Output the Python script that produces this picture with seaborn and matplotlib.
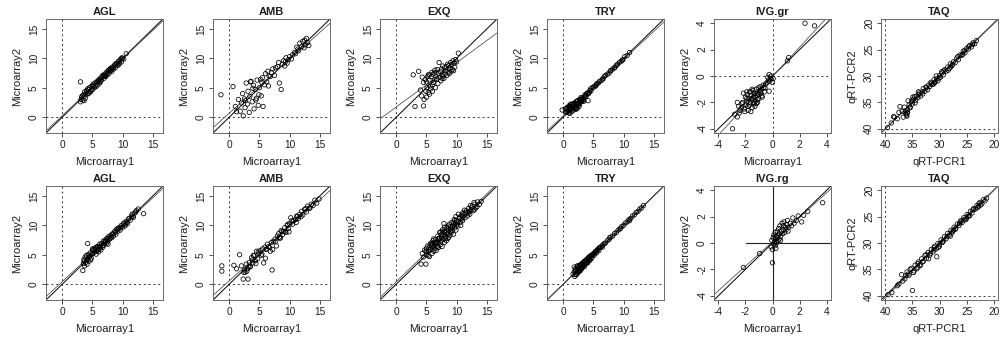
import numpy as np
import matplotlib
matplotlib.use("Agg")
import matplotlib.pyplot as plt
import seaborn as sns

# ---- row 1 -------------------------------------------------------------
agl1_x = [3.0, 3.1, 3.2, 3.4, 3.5, 3.6, 3.7, 3.8, 4.0, 4.1, 4.2, 4.3, 4.4, 4.5, 4.6, 4.8, 4.9,
          5.0, 5.1, 5.3, 5.4, 5.5, 5.6, 5.8, 5.9, 6.0, 6.1, 6.2, 6.4, 6.5, 6.6, 6.7, 6.9,
          7.0, 7.1, 7.2, 7.3, 7.5, 7.6, 7.7, 7.8, 8.0, 8.1, 8.2, 8.3, 8.5, 8.6, 8.7, 8.8,
          9.0, 9.1, 9.2, 9.3, 9.4, 9.6, 9.7, 9.8, 10.0, 10.2, 10.6, 3.0,
          3.3, 3.9, 4.4, 4.7, 5.2, 5.7, 6.3, 6.8, 7.4, 7.9, 8.4, 8.9, 9.5, 9.9,
          3.6, 4.1, 5.0, 6.0, 7.0, 8.0]
agl1_y = [2.6, 3.0, 3.4, 2.9, 3.8, 3.5, 4.3, 3.2, 4.5, 3.9, 4.8, 4.0, 4.1, 5.0, 4.4, 5.2, 4.6,
          4.7, 5.6, 5.0, 5.8, 5.4, 5.2, 6.1, 5.5, 6.2, 6.4, 5.8, 6.7, 6.3, 6.8, 7.1, 6.6,
          7.3, 7.0, 6.9, 7.6, 7.2, 7.9, 8.0, 7.5, 8.3, 8.0, 7.8, 8.5, 8.2, 8.7, 8.9, 8.4,
          9.1, 9.2, 8.8, 9.5, 9.0, 9.7, 9.9, 9.4, 10.0, 9.9, 10.8, 6.0,
          3.6, 4.0, 4.7, 4.3, 5.3, 5.9, 6.0, 7.0, 7.4, 8.1, 8.4, 9.1, 9.2, 10.1,
          2.8, 4.4, 5.3, 6.0, 7.0, 8.0]

amb1_x = [-1.4, 0.6, 1.0, 1.2, 1.5, 1.8, 2.0, 2.2, 2.3, 2.5,
          2.6, 2.7, 2.8, 3.0, 3.1, 3.3, 3.4, 3.5, 3.6, 3.8,
          3.9, 4.0, 4.1, 4.3, 4.4, 4.5, 4.6, 4.8, 4.9, 5.0,
          5.2, 5.3, 5.4, 5.5, 5.6, 5.8, 6.0, 6.2, 6.4, 6.5,
          6.6, 6.8, 7.0, 7.2, 7.5, 7.7, 8.0, 8.2, 8.3, 8.6,
          8.8, 9.0, 9.2, 9.3, 9.4, 9.6, 9.8, 10.0, 10.3, 10.5,
          10.8, 11.0, 11.2, 11.4, 11.5, 11.7, 12.0, 12.2, 12.4, 12.5,
          12.6, 12.8, 13.0, 13.2]
amb1_y = [3.8, 5.2, 1.8, 0.9, 3.0, 1.0, 2.4, 4.0, 0.2, 3.1,
          1.6, 2.8, 5.8, 2.2, 4.4, 0.8, 3.5, 6.0, 6.1, 2.6,
          4.9, 5.4, 1.4, 4.7, 2.9, 3.2, 6.3, 2.0, 3.8, 5.0,
          6.4, 3.6, 5.9, 6.7, 1.8, 5.5, 7.4, 6.0, 7.8, 5.3,
          7.0, 6.9, 7.6, 8.2, 7.1, 8.4, 8.6, 9.3, 5.8, 4.7,
          9.0, 9.6, 8.7, 9.4, 10.1, 9.2, 9.8, 10.3, 9.9, 10.6,
          11.0, 10.8, 11.9, 11.6, 11.3, 12.6, 12.0, 12.9, 11.8, 13.1,
          12.3, 13.4, 12.7, 12.2]

exq1_x = [2.8, 3.1, 3.7, 4.0, 4.2, 4.5, 4.5, 4.6, 4.8, 4.9,
          5.0, 5.0, 5.1, 5.2, 5.3, 5.4, 5.5, 5.5, 5.6, 5.7,
          5.8, 5.9, 6.0, 6.0, 6.1, 6.2, 6.3, 6.4, 6.5, 6.6,
          6.7, 6.8, 6.9, 7.0, 7.1, 7.2, 7.3, 7.4, 7.5, 7.6,
          7.7, 7.8, 7.9, 8.0, 8.1, 8.2, 8.3, 8.4, 8.5, 8.6,
          8.7, 8.8, 8.9, 9.0, 9.1, 9.2, 9.3, 9.4, 9.5, 9.6,
          9.7, 9.8, 10.0, 10.3, 4.3, 5.3, 6.4, 7.6]
exq1_y = [7.2, 1.8, 7.8, 4.6, 3.6, 1.9, 5.9, 3.0, 6.4, 4.4,
          6.0, 3.4, 5.0, 6.9, 4.2, 6.3, 3.9, 7.2, 5.3, 4.8,
          6.9, 7.6, 5.5, 4.4, 7.3, 5.9, 7.5, 6.4, 5.0, 7.6,
          6.5, 8.1, 5.7, 7.4, 9.3, 6.8, 7.8, 6.2, 8.2, 7.1,
          8.7, 7.0, 6.6, 8.4, 7.3, 7.9, 8.6, 7.1, 9.0, 7.6,
          8.8, 7.4, 8.3, 9.3, 7.8, 9.0, 8.1, 9.6, 7.9, 9.2,
          8.5, 9.8, 9.4, 10.9, 6.8, 7.2, 8.0, 6.6]

try1_x = [-0.2, 0.3, 0.5, 0.6, 0.8, 0.9, 1.0, 1.1, 1.2, 1.3,
          1.4, 1.5, 1.6, 1.7, 1.8, 1.9, 2.0, 2.1, 2.2, 2.3,
          2.4, 2.5, 2.6, 2.7, 2.8, 2.9, 3.0, 3.1, 3.2, 3.3,
          3.5, 3.6, 3.8, 4.0, 4.2, 4.4, 4.6, 4.8, 5.0, 5.2,
          5.4, 5.6, 5.8, 6.0, 6.3, 6.5, 6.8, 7.0, 7.3, 7.6,
          7.9, 8.2, 8.5, 8.8, 9.0, 9.3, 9.6, 9.9, 10.2, 10.6,
          11.0, 1.0, 1.5, 2.0, 2.6, 3.4, 0.7, 1.2, 2.3, 4.5,
          0.4, 0.7, 0.9, 1.1, 1.3, 1.5, 1.7, 1.9, 2.1, 2.3,
          2.5, 2.7, 2.9, 3.1, 3.3, 0.6, 1.0, 1.4, 1.8, 2.2,
          2.6, 3.0, 3.7, 3.9, 4.3, 5.5, 6.6, 7.8, 8.6, 9.8, 4.1]
try1_y = [1.2, 1.4, 0.8, 1.6, 1.1, 1.9, 1.5, 0.6, 1.8, 1.3,
          1.7, 2.2, 1.2, 2.0, 1.6, 2.4, 1.9, 2.6, 1.4, 2.3,
          2.8, 2.1, 2.5, 3.0, 2.6, 2.9, 3.1, 2.7, 3.3, 3.0,
          3.4, 3.8, 3.6, 4.1, 4.0, 4.5, 4.5, 5.0, 5.1, 5.3,
          5.3, 5.7, 5.8, 6.1, 6.2, 6.5, 6.9, 7.1, 7.3, 7.5,
          7.9, 8.2, 8.4, 8.8, 9.0, 9.3, 9.5, 9.8, 10.3, 10.5,
          11.0, 0.9, 1.0, 1.3, 1.8, 2.7, 1.0, 2.2, 1.5, 4.8,
          0.9, 1.3, 0.7, 1.7, 2.1, 1.4, 2.3, 1.5, 2.0, 2.7,
          2.4, 2.2, 3.3, 3.0, 2.9, 1.5, 1.8, 1.5, 2.1, 2.6,
          2.3, 2.7, 3.7, 4.0, 4.2, 5.6, 6.5, 7.9, 8.5, 9.7, 2.8]

ivg1_x = [-2.95, -2.8, -2.6, -2.5, -2.4, -2.3, -2.2, -2.1, -2.0, -1.95,
          -1.9, -1.85, -1.8, -1.75, -1.7, -1.65, -1.6, -1.55, -1.5, -1.45,
          -1.4, -1.35, -1.3, -1.25, -1.2, -1.15, -1.1, -1.05, -1.0, -0.95,
          -0.9, -0.85, -0.8, -0.7, -0.6, -0.5, -0.3, -0.25, -0.2, -0.1,
          0.0, 0.05, -0.25, 1.1, 1.2, 2.4, 3.1, -1.6, -1.3, -2.6,
          -1.9, -1.1, -0.75, -1.5, -2.15,
          -2.45, -2.25, -2.05, -1.9, -1.8, -1.7, -1.6, -1.5, -1.4, -1.3,
          -1.2, -1.1, -1.0, -0.9, -0.8, -0.65, -0.55, -0.4, -0.15, -0.35]
ivg1_y = [-4.0, -2.9, -3.1, -2.3, -2.6, -2.4, -2.0, -2.5, -1.6, -2.2,
          -1.9, -1.4, -2.3, -1.7, -1.2, -2.0, -1.5, -1.8, -2.4, -1.1,
          -1.6, -2.1, -1.3, -1.9, -1.0, -1.5, -1.8, -0.9, -1.4, -1.1,
          -0.8, -1.3, -1.0, -0.7, -1.2, -0.6, -0.3, 0.1, -0.4, 0.0,
          -0.5, -0.2, -1.15, 1.15, 1.4, 4.0, 3.8, -2.7, -2.3, -2.0,
          -1.2, -2.0, -1.6, -1.0, -1.3,
          -2.8, -2.1, -2.7, -1.7, -2.6, -2.2, -1.2, -1.7, -2.0, -1.6,
          -2.1, -1.3, -1.7, -1.2, -1.5, -0.9, -0.9, -0.5, -0.2, -0.1]

taq1_x = [39.6, 38.9, 38.3, 37.8, 37.3, 36.9, 36.5, 36.2, 36.0, 35.9,
          35.8, 35.6, 35.4, 35.2, 35.0, 34.8, 34.6, 34.4, 34.2, 34.0,
          33.7, 33.5, 33.2, 33.0, 32.7, 32.5, 32.2, 32.0, 31.8, 31.5,
          31.3, 31.0, 30.8, 30.5, 30.3, 30.0, 29.8, 29.5, 29.3, 29.0,
          28.8, 28.5, 28.2, 28.0, 27.7, 27.4, 27.1, 26.8, 26.5, 26.2,
          25.9, 25.6, 25.3, 25.0, 24.7, 24.4, 24.1, 23.8, 23.5, 23.2,
          36.1, 35.9, 36.3, 34.9, 33.9, 31.1, 29.6, 27.9, 25.4, 30.6,
          38.5, 37.5, 36.7, 36.0, 35.5, 35.0, 34.5, 33.8, 33.1, 32.4,
          31.6, 30.9, 30.1, 29.2, 28.4, 27.6, 26.6, 25.7, 24.6, 23.9]
taq1_y = [39.8, 38.9, 37.8, 38.1, 35.8, 36.7, 35.9, 37.2, 37.6, 36.4,
          34.7, 35.5, 36.0, 34.9, 35.3, 34.4, 33.9, 34.6, 33.8, 34.1,
          33.2, 33.8, 33.0, 32.4, 32.9, 32.1, 32.6, 31.7, 32.0, 31.4,
          31.6, 30.7, 31.1, 30.5, 30.9, 29.9, 30.2, 29.4, 29.8, 28.8,
          29.1, 28.3, 28.6, 27.7, 28.0, 27.3, 27.5, 26.6, 26.9, 26.0,
          26.1, 25.3, 25.6, 24.8, 24.9, 24.2, 24.5, 23.7, 23.9, 23.3,
          37.4, 36.9, 36.6, 34.0, 33.0, 31.5, 29.2, 28.3, 25.2, 30.0,
          37.7, 36.9, 37.8, 37.0, 35.9, 34.6, 35.1, 33.5, 33.4, 32.2,
          31.2, 31.3, 30.4, 29.0, 28.9, 27.8, 26.3, 25.9, 24.4, 24.0]

# ---- row 2 -------------------------------------------------------------
agl2_x = [3.4, 3.5, 3.6, 3.7, 3.8, 3.9, 4.0, 4.1, 4.2, 4.3,
          4.4, 4.5, 4.6, 4.8, 5.0, 5.1, 5.3, 5.4, 5.5, 5.7,
          5.8, 6.0, 6.1, 6.2, 6.4, 6.5, 6.6, 6.8, 6.9, 7.0,
          7.1, 7.3, 7.4, 7.5, 7.7, 7.8, 8.0, 8.2, 8.4, 8.5,
          8.7, 8.9, 9.0, 9.2, 9.4, 9.6, 9.8, 10.0, 10.2, 10.4,
          10.6, 10.8, 11.0, 11.3, 11.5, 11.8, 12.0, 12.3, 12.6, 13.5,
          4.2, 5.0, 6.3, 7.2, 8.1, 9.1, 10.5, 11.6, 4.7, 5.6,
          3.6, 4.0, 4.3, 4.6, 4.9, 5.2, 5.6, 5.9, 6.3, 6.7,
          7.1, 7.5, 7.9, 8.3, 8.8, 9.3, 9.7, 10.1, 10.7, 11.1,
          11.7, 12.2, 6.0, 7.6]
agl2_y = [2.3, 3.5, 4.2, 3.1, 4.6, 3.7, 4.9, 3.4, 4.3, 5.0,
          3.9, 4.7, 5.3, 4.4, 5.8, 5.2, 6.0, 5.5, 6.2, 5.6,
          6.4, 5.9, 6.3, 6.8, 5.8, 6.9, 6.5, 7.3, 6.6, 7.0,
          7.5, 6.9, 7.8, 7.2, 8.1, 7.6, 8.3, 7.9, 8.6, 8.2,
          9.0, 8.5, 9.3, 9.0, 9.6, 9.2, 10.0, 9.7, 10.4, 9.9,
          10.7, 10.3, 11.1, 10.9, 11.6, 11.4, 12.1, 12.5, 12.8, 12.0,
          6.9, 6.0, 6.1, 7.3, 8.0, 9.4, 10.2, 11.9, 4.1, 5.1,
          3.9, 4.0, 4.6, 4.8, 5.1, 5.8, 5.9, 6.3, 6.5, 6.3,
          7.2, 7.7, 7.8, 8.5, 8.8, 9.4, 9.6, 10.2, 10.5, 11.2,
          11.5, 12.3, 5.5, 6.8]

amb2_x = [-1.25, -1.25, 0.75, 1.2, 1.7, 2.0, 2.3, 2.5, 2.6, 2.8,
          3.0, 3.1, 3.3, 3.5, 3.7, 3.9, 4.1, 4.3, 4.5, 4.7,
          4.9, 5.1, 5.3, 5.5, 5.7, 5.9, 6.1, 6.3, 6.5, 6.8,
          7.0, 7.1, 7.3, 7.6, 7.8, 8.0, 8.2, 8.4, 8.6, 8.8,
          9.0, 9.2, 9.4, 9.6, 9.8, 10.0, 10.2, 10.5, 10.7, 11.0,
          11.2, 11.5, 11.7, 12.0, 12.2, 12.5, 12.8, 13.0, 13.3, 13.6,
          13.9, 14.2, 14.5, 14.9, 8.5, 9.9, 11.3, 6.0, 4.0, 3.2,
          2.4, 2.9, 3.4, 3.8, 4.4, 4.8, 5.4, 6.2, 6.7, 7.2,
          7.7, 8.3, 8.7, 9.3, 9.7, 10.4, 11.1, 11.9, 12.7, 13.4]
amb2_y = [3.1, 2.2, 3.2, 2.6, 5.0, 3.1, 0.85, 2.4, 2.0, 3.4,
          2.6, 0.85, 3.7, 3.0, 4.5, 3.6, 4.8, 4.0, 5.6, 4.3,
          5.2, 5.7, 4.9, 6.0, 3.6, 6.3, 5.9, 6.8, 6.4, 5.6,
          7.1, 2.4, 7.3, 7.7, 6.5, 8.2, 8.6, 7.8, 9.1, 8.4,
          9.0, 9.6, 8.8, 10.0, 9.5, 10.3, 11.3, 10.2, 10.8, 11.0,
          11.6, 11.2, 11.9, 12.4, 11.8, 12.7, 12.3, 13.3, 12.9, 13.6,
          13.4, 14.3, 13.8, 14.5, 7.9, 8.9, 11.5, 4.4, 4.9, 2.9,
          2.0, 2.2, 2.9, 4.1, 3.5, 5.5, 5.1, 6.0, 6.2, 5.9,
          7.3, 8.0, 8.9, 9.0, 10.2, 10.8, 10.5, 11.5, 12.9, 13.0]

exq2_x = [4.1, 4.3, 4.5, 4.7, 4.9, 5.0, 5.1, 5.2, 5.4, 5.5,
          5.6, 5.7, 5.8, 5.9, 6.0, 6.1, 6.2, 6.3, 6.4, 6.5,
          6.6, 6.7, 6.8, 6.9, 7.0, 7.1, 7.2, 7.3, 7.4, 7.5,
          7.6, 7.7, 7.8, 7.9, 8.0, 8.1, 8.2, 8.3, 8.4, 8.5,
          8.6, 8.7, 8.8, 8.9, 9.0, 9.1, 9.2, 9.3, 9.4, 9.5,
          9.6, 9.7, 9.8, 9.9, 10.0, 10.2, 10.4, 10.6, 10.8, 11.0,
          11.2, 11.4, 11.6, 11.8, 12.0, 12.2, 12.4, 12.6, 12.8, 13.0,
          13.2, 13.5, 13.8, 14.1, 5.3, 6.4, 7.2, 8.2, 9.0, 10.1,
          11.0, 12.1, 6.9, 7.7, 8.6, 4.9, 5.8, 9.7, 10.9, 12.9,
          5.0, 5.5, 6.0, 6.5, 7.0, 7.5, 8.0, 8.5, 9.0, 9.5,
          10.0, 10.5, 11.0, 11.5, 12.0, 12.5, 13.0, 6.2, 6.8, 7.4,
          8.0, 8.7, 9.3, 9.9, 10.7, 11.3, 12.3, 13.4, 7.9, 10.3]
exq2_y = [3.4, 5.2, 4.6, 5.8, 3.4, 6.1, 5.0, 6.5, 5.6, 4.7,
          6.8, 5.9, 7.0, 5.2, 6.3, 7.4, 5.6, 6.9, 6.0, 7.6,
          5.7, 7.1, 6.5, 8.2, 6.2, 7.8, 8.8, 6.7, 7.3, 8.0,
          6.4, 9.3, 7.6, 8.5, 7.1, 9.0, 8.1, 7.4, 9.6, 8.6,
          7.8, 9.2, 10.2, 8.3, 9.8, 8.8, 10.5, 9.1, 10.0, 8.5,
          11.0, 9.6, 10.3, 9.2, 10.8, 9.9, 11.2, 10.5, 11.7, 10.8,
          12.0, 11.3, 12.5, 11.6, 12.9, 11.9, 12.6, 13.3, 12.5, 13.6,
          13.0, 14.0, 13.6, 14.1, 4.8, 6.6, 7.9, 7.8, 9.4, 10.6,
          11.5, 12.4, 7.0, 8.9, 9.9, 5.6, 6.6, 10.8, 11.1, 13.9,
          5.5, 6.3, 6.9, 7.1, 7.7, 8.4, 8.8, 9.4, 9.0, 10.4,
          10.1, 11.4, 12.1, 12.2, 12.1, 13.0, 12.7, 7.7, 6.3, 8.9,
          9.7, 8.0, 9.8, 11.5, 10.0, 12.6, 13.4, 13.2, 10.3, 11.9]

try2_x = [1.6, 1.8, 1.9, 2.0, 2.1, 2.2, 2.3, 2.4, 2.5, 2.6,
          2.7, 2.8, 2.9, 3.0, 3.1, 3.2, 3.3, 3.4, 3.5, 3.6,
          3.7, 3.8, 3.9, 4.0, 4.1, 4.2, 4.3, 4.4, 4.5, 4.6,
          4.8, 5.0, 5.2, 5.4, 5.6, 5.8, 6.0, 6.2, 6.4, 6.6,
          6.8, 7.0, 7.3, 7.6, 7.9, 8.2, 8.5, 8.8, 9.1, 9.4,
          9.7, 10.0, 10.3, 10.6, 10.9, 11.2, 11.5, 11.8, 12.1, 12.4,
          12.7, 13.0, 13.3, 2.0, 2.5, 3.0, 3.5, 4.0, 1.8, 2.8,
          2.0, 2.2, 2.4, 2.6, 2.8, 3.0, 3.2, 3.4, 3.6, 3.8,
          4.0, 4.2, 4.4, 4.6, 4.9, 5.1, 5.3, 5.5, 5.7, 5.9,
          2.3, 2.7, 3.1, 3.5, 3.9, 4.7, 6.5, 7.7, 9.5, 11.0]
try2_y = [1.7, 2.9, 1.3, 2.2, 2.7, 1.9, 2.5, 3.0, 2.2, 2.8,
          3.2, 2.5, 3.3, 2.9, 3.5, 3.1, 3.6, 3.2, 3.9, 3.5,
          4.0, 3.6, 4.2, 3.9, 4.4, 4.1, 4.5, 4.2, 4.8, 4.5,
          4.9, 5.2, 5.3, 5.6, 5.7, 6.0, 6.2, 6.3, 6.5, 6.7,
          6.9, 7.0, 7.4, 7.6, 8.0, 8.2, 8.6, 8.8, 9.2, 9.4,
          9.8, 10.0, 10.4, 10.6, 11.0, 11.2, 11.6, 11.8, 12.2, 12.4,
          12.8, 13.0, 13.4, 1.6, 2.0, 2.6, 3.0, 3.6, 2.1, 2.3,
          2.5, 1.6, 2.1, 2.3, 3.1, 3.4, 2.9, 3.8, 3.4, 4.1,
          3.7, 4.6, 4.0, 4.9, 5.0, 4.9, 5.5, 5.3, 5.9, 5.7,
          3.1, 2.2, 2.7, 3.3, 3.6, 4.4, 6.3, 7.9, 9.5, 10.8]

ivg2_x = [-2.15, -0.95, 0.0, -0.1, -0.05, 0.0, 0.05, 0.1, 0.1, 0.15,
          0.2, 0.2, 0.25, 0.3, 0.3, 0.35, 0.4, 0.4, 0.45, 0.5,
          0.5, 0.55, 0.6, 0.65, 0.7, 0.75, 0.8, 0.85, 0.9, 0.95,
          1.0, 1.05, 1.1, 1.2, 1.3, 1.4, 1.5, 1.6, 1.75, 1.9,
          2.15, 2.3, 2.6, 3.7, 0.15, 0.35, 0.6, 0.8, 1.15, 0.25]
ivg2_y = [-1.85, -0.8, -1.5, -0.3, 0.2, -0.5, 0.4, -0.1, 0.6, 0.1,
          -0.2, 0.8, 0.3, 0.0, 0.5, 0.9, 0.2, 0.6, 1.1, 0.3,
          0.7, 1.3, 0.5, 0.9, 1.5, 0.7, 1.0, 1.6, 0.8, 1.2,
          1.0, 1.4, 1.7, 1.2, 1.5, 1.3, 1.9, 1.5, 1.7, 2.05,
          1.6, 2.1, 2.4, 3.05, 0.0, 0.4, 0.2, 1.3, 0.9, -0.4]

taq2_x = [39.5, 38.8, 37.8, 37.0, 36.4, 36.0, 35.6, 35.2, 34.8, 34.5,
          34.2, 33.9, 33.6, 33.3, 33.0, 32.7, 32.4, 32.1, 31.8, 31.5,
          31.2, 30.9, 30.6, 30.3, 30.0, 29.7, 29.4, 29.1, 28.8, 28.5,
          28.2, 27.9, 27.6, 27.3, 27.0, 26.7, 26.4, 26.1, 25.8, 25.5,
          25.2, 24.9, 24.6, 24.3, 24.0, 23.7, 23.4, 23.1, 22.8, 22.5,
          22.2, 21.9, 21.6, 21.3, 35.0, 34.0, 32.0, 30.5, 29.5, 27.4,
          26.0, 24.4, 22.7, 35.8, 33.5, 31.0, 28.0, 25.0, 23.0, 30.0,
          37.5, 36.8, 36.2, 35.4, 34.7, 34.0, 33.2, 32.5, 31.7, 31.0,
          30.2, 29.3, 28.6, 27.8, 27.1, 26.3, 25.4, 24.7, 23.8, 22.4]
taq2_y = [39.8, 39.4, 38.1, 36.0, 36.8, 35.5, 36.1, 34.8, 35.6, 34.2,
          34.9, 33.6, 34.3, 33.0, 33.5, 32.4, 32.9, 31.8, 32.3, 31.2,
          31.7, 30.6, 31.1, 30.1, 30.3, 29.4, 29.8, 28.8, 29.2, 28.2,
          28.5, 27.6, 27.9, 27.0, 27.2, 26.4, 26.7, 25.8, 26.1, 25.2,
          25.6, 24.6, 24.9, 24.0, 24.3, 23.5, 23.6, 22.9, 23.1, 22.3,
          22.6, 21.8, 22.0, 21.5, 39.0, 34.6, 33.0, 32.6, 29.9, 27.6,
          25.9, 24.8, 22.5, 35.9, 34.1, 31.3, 28.7, 25.4, 23.3, 30.6,
          37.8, 37.2, 36.2, 35.0, 35.3, 33.9, 33.6, 32.2, 32.0, 30.9,
          30.8, 29.6, 28.8, 28.1, 27.4, 26.3, 25.5, 24.9, 23.7, 22.8]

row1_titles = ["AGL", "AMB", "EXQ", "TRY", "IVG.gr", "TAQ"]
row2_titles = ["AGL", "AMB", "EXQ", "TRY", "IVG.rg", "TAQ"]
row1_data = [(agl1_x, agl1_y), (amb1_x, amb1_y), (exq1_x, exq1_y),
             (try1_x, try1_y), (ivg1_x, ivg1_y), (taq1_x, taq1_y)]
row2_data = [(agl2_x, agl2_y), (amb2_x, amb2_y), (exq2_x, exq2_y),
             (try2_x, try2_y), (ivg2_x, ivg2_y), (taq2_x, taq2_y)]

micro_ticks = [0, 5, 10, 15]
ivg_ticks = [-4, -2, 0, 2, 4]
taq_ticks = [20, 25, 30, 35, 40]

sns.set_style("white")
plt.rcParams["font.family"] = ["Liberation Sans", "DejaVu Sans"]
TEXT = "#1e1e1e"

W, H = 1001, 338
fig = plt.figure(figsize=(W / 100, H / 100), dpi=100)
fig.patch.set_facecolor("white")

row_box = [(19, 133), (186, 300)]  # top, bottom in pixels


def panel(ax, x, y, title, kind, solid_ref=False):
    x = np.asarray(x, float)
    y = np.asarray(y, float)
    if kind == "micro":
        lo, hi, ticks, ref = -2.0, 16.0, micro_ticks, 0.0
        xl, yl = "Microarray1", "Microarray2"
    elif kind == "ivg":
        lo, hi, ticks, ref = -4.0, 4.0, ivg_ticks, 0.0
        xl, yl = "Microarray1", "Microarray2"
    else:
        lo, hi, ticks, ref = 20.0, 40.0, taq_ticks, 40.0
        xl, yl = "qRT-PCR1", "qRT-PCR2"
    pad = 0.04 * (hi - lo)

    # reference lines at the origin (or the Ct ceiling)
    if solid_ref:
        ax.axvline(ref, color="#222222", lw=0.8, zorder=1)
        ax.axhline(ref, xmin=0.27, color="#222222", lw=0.8, zorder=1)
    else:
        dots = (0, (2.0, 3.0))
        ax.axvline(ref, color="#333333", lw=0.7, ls=dots, zorder=1)
        ax.axhline(ref, color="#333333", lw=0.7, ls=dots, zorder=1)

    # identity line and least-squares fit
    ax.axline((lo, lo), slope=1.0, color="black", lw=0.7, zorder=2)
    m, c = np.polyfit(x, y, 1)
    ax.axline((0.0, c), slope=m, color="#555555", lw=0.6, zorder=2)

    sns.scatterplot(x=x, y=y, ax=ax, marker="o", s=10, facecolors="none",
                    edgecolor="black", linewidth=0.55, zorder=3)

    if kind == "taq":
        ax.set_xlim(hi + pad, lo - pad)
        ax.set_ylim(hi + pad, lo - pad)
    else:
        ax.set_xlim(lo - pad, hi + pad)
        ax.set_ylim(lo - pad, hi + pad)
    ax.set_xticks(ticks)
    ax.set_yticks(ticks)
    ax.set_xticklabels([str(t) for t in ticks])
    ax.set_yticklabels([str(t) for t in ticks])
    ax.tick_params(axis="both", which="major", direction="out", length=3,
                   width=0.6, colors="#333333", labelsize=7.3, pad=2,
                   labelcolor=TEXT, bottom=True, left=True)
    for t in ax.get_yticklabels():
        t.set_rotation(90)
        t.set_va("center")
    for s in ax.spines.values():
        s.set_color("#6a6a6a")
        s.set_linewidth(0.7)
    ax.set_title(title, fontsize=8, fontweight="bold", color=TEXT, pad=3)
    ax.set_xlabel(xl, fontsize=8, color=TEXT, labelpad=5)
    ax.set_ylabel(yl, fontsize=8, color=TEXT, labelpad=5)


for r, (titles, data) in enumerate([(row1_titles, row1_data), (row2_titles, row2_data)]):
    top, bottom = row_box[r]
    for c, (title, (x, y)) in enumerate(zip(titles, data)):
        left = 46 + 167.0 * c
        ax = fig.add_axes([left / W, 1 - bottom / H, 117 / W, (bottom - top) / H])
        kind = "micro" if c < 4 else ("ivg" if c == 4 else "taq")
        panel(ax, x, y, title, kind, solid_ref=(r == 1 and c == 4))

fig.savefig("out.png", dpi=100)
